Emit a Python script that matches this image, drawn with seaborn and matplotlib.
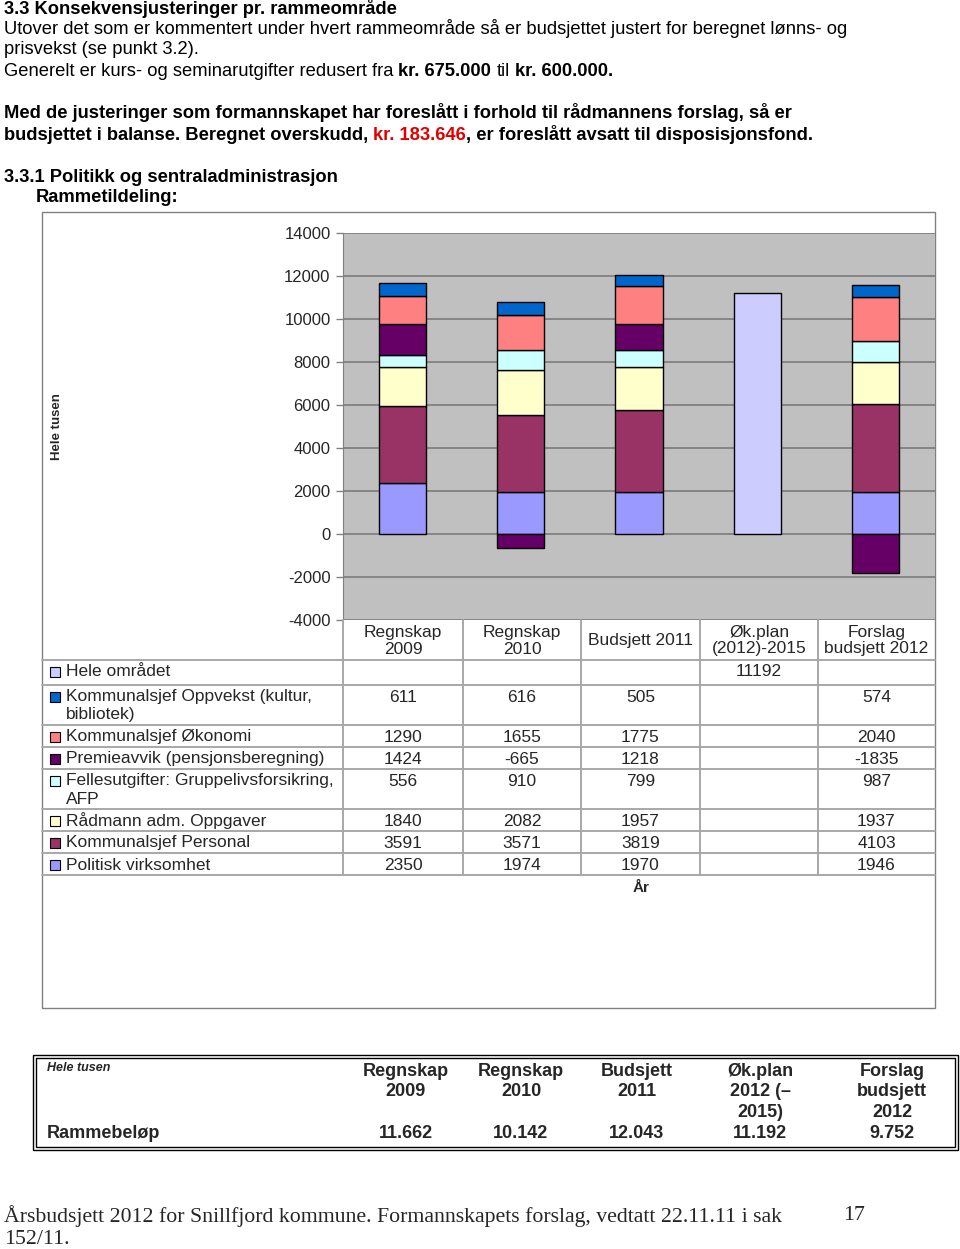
import numpy as np
import pandas as pd
import seaborn as sns
import matplotlib.pyplot as plt
from matplotlib.lines import Line2D
from matplotlib.patches import Rectangle

# ---- data ----
categories = ["Regnskap 2009", "Regnskap 2010", "Budsjett 2011",
              "Øk.plan (2012)-2015", "Forslag budsjett 2012"]
col_headers = ["Regnskap\n2009", "Regnskap\n2010", "Budsjett 2011",
               "Øk.plan\n(2012)-2015", "Forslag\nbudsjett 2012"]

hele_omradet = [np.nan, np.nan, np.nan, 11192, np.nan]
oppvekst = [611, 616, 505, np.nan, 574]
okonomi = [1290, 1655, 1775, np.nan, 2040]
premieavvik = [1424, -665, 1218, np.nan, -1835]
fellesutgifter = [556, 910, 799, np.nan, 987]
radmann = [1840, 2082, 1957, np.nan, 1937]
personal = [3591, 3571, 3819, np.nan, 4103]
politisk = [2350, 1974, 1970, np.nan, 1946]

series_names = ["Hele området",
                "Kommunalsjef Oppvekst (kultur,\nbibliotek)",
                "Kommunalsjef Økonomi",
                "Premieavvik (pensjonsberegning)",
                "Fellesutgifter: Gruppelivsforsikring,\nAFP",
                "Rådmann adm. Oppgaver",
                "Kommunalsjef Personal",
                "Politisk virksomhet"]
series_values = [hele_omradet, oppvekst, okonomi, premieavvik,
                 fellesutgifter, radmann, personal, politisk]
series_colors = ["#CCCCFF", "#0066CC", "#FF8080", "#660066",
                 "#CCFFFF", "#FFFFCC", "#993366", "#9999FF"]

summary_headers = ["Regnskap\n2009", "Regnskap\n2010", "Budsjett\n2011",
                   "Øk.plan\n2012 (–\n2015)", "Forslag\nbudsjett\n2012"]
rammebelop = ["11.662", "10.142", "12.043", "11.192", "9.752"]

sns.set_style("white")
plt.rcParams['font.family'] = ['Liberation Sans', 'DejaVu Sans']

W, H = 960, 1249
fig = plt.figure(figsize=(W / 100, H / 100), dpi=100)


def fx(x):
    return x / W


def fy(y):
    return 1 - y / H


def ftext(x, y, s, **kw):
    kw.setdefault('va', 'center')
    return fig.text(fx(x), fy(y), s, **kw)


def fline(x0, y0, x1, y1, **kw):
    fig.add_artist(Line2D([fx(x0), fx(x1)], [fy(y0), fy(y1)],
                          transform=fig.transFigure, **kw))


def frect(x0, y0, x1, y1, **kw):
    fig.add_artist(Rectangle((fx(x0), fy(y1)), fx(x1) - fx(x0), fy(y0) - fy(y1),
                             transform=fig.transFigure, **kw))


renderer = fig.canvas.get_renderer()
TXT = 13.2


def rich(x, y, parts, size=TXT):
    # parts: (text, weight, color); trailing spaces handled by hand
    for s, weight, color in parts:
        core = s.rstrip(' ')
        t = ftext(x, y, core, fontsize=size, fontweight=weight, color=color)
        x += t.get_window_extent(renderer=renderer).width
        x += (len(s) - len(core)) * 0.278 * size * 100 / 72


# ---- page text ----
B, N, K, R = 'bold', 'normal', 'black', '#E00000'
rich(4, 8, [("3.3 Konsekvensjusteringer pr. rammeområde", B, K)])
rich(4, 29, [("Utover det som er kommentert under hvert rammeområde så er budsjettet justert for beregnet lønns- og", N, K)])
rich(4, 50, [("prisvekst (se punkt 3.2).", N, K)])
rich(4, 71, [("Generelt er kurs- og seminarutgifter redusert fra ", N, K),
             ("kr. 675.000 ", B, K), ("til ", N, K), ("kr. 600.000.", B, K)])
rich(4, 113, [("Med de justeringer som formannskapet har foreslått i forhold til rådmannens forslag, så er", B, K)])
rich(4, 135, [("budsjettet i balanse. Beregnet overskudd, ", B, K), ("kr. 183.646", B, R),
              (", er foreslått avsatt til disposisjonsfond.", B, K)])
rich(4, 177, [("3.3.1 Politikk og sentraladministrasjon", B, K)])
rich(36, 198, [("Rammetildeling:", B, K)])

# ---- chart frame ----
frect(42, 212, 935, 1008, facecolor='white', edgecolor='#808080', lw=1, zorder=0)

ax = fig.add_axes([fx(343), fy(620), fx(935) - fx(343), fy(233) - fy(620)])
ax.set_facecolor('#C0C0C0')

pos_base = np.zeros(len(categories))
neg_base = np.zeros(len(categories))
for name, vals, color in reversed(list(zip(series_names, series_values, series_colors))):
    v = np.array(vals, dtype=float)
    mask = ~np.isnan(v)
    base = np.where(v >= 0, pos_base, neg_base)
    df = pd.DataFrame({"cat": np.array(categories)[mask], "val": v[mask]})
    sns.barplot(data=df, x="cat", y="val", order=categories, bottom=base[mask],
                color=color, saturation=1, width=0.4, edgecolor='black',
                linewidth=1, errorbar=None, ax=ax)
    vv = np.nan_to_num(v)
    pos_base = pos_base + np.where(vv > 0, vv, 0)
    neg_base = neg_base + np.where(vv < 0, vv, 0)

ax.set_xlim(-0.5, 4.5)
ax.set_ylim(-4000, 14000)
ax.set_yticks(range(-4000, 14001, 2000))
ax.set_yticklabels([str(t) for t in range(-4000, 14001, 2000)], fontsize=12)
ax.tick_params(axis='y', length=5, width=1, color='#808080', pad=4, left=True)
ax.tick_params(axis='x', length=0, labelbottom=False)
ax.set_xlabel("")
ax.set_ylabel("")
ax.yaxis.grid(True, color='#808080', linewidth=1.3)
ax.set_axisbelow(True)
for side in ['top', 'right', 'bottom']:
    ax.spines[side].set_visible(False)
ax.spines['left'].set_color('#808080')

ftext(57, 427, "Hele tusen", fontsize=9.5, fontweight='bold', rotation=90, ha='center')

# ---- data table under the chart ----
TB = 12.5
col_edges = [343, 463, 581, 700, 818, 935]
col_mid = [(a + b) / 2 for a, b in zip(col_edges[:-1], col_edges[1:])]
row_lines = [660, 685, 725, 747, 769, 809, 831, 853, 875]
grid_kw = dict(color='#A8A8A8', lw=1.4)

for x in col_edges[:-1]:
    fline(x, 620, x, 875, **grid_kw)
for y in row_lines:
    fline(42, y, 935, y, **grid_kw)

for xm, head in zip(col_mid, col_headers):
    lines = head.split("\n")
    if len(lines) == 1:
        ftext(xm, 640, lines[0], fontsize=TB, ha='center')
    else:
        for i, ln in enumerate(lines):
            ftext(xm, 632 + 17 * i, ln, fontsize=TB, ha='center')

for top, name, vals, color in zip(row_lines[:-1], series_names, series_values, series_colors):
    y0 = top + 12
    frect(50, y0 - 5, 60, y0 + 5, facecolor=color, edgecolor='black', lw=0.8)
    for i, ln in enumerate(name.split("\n")):
        ftext(66, y0 + 18 * i, ln, fontsize=TB)
    for xm, v in zip(col_mid, vals):
        if not np.isnan(v):
            ftext(xm, y0, str(int(v)), fontsize=TB, ha='center')

ftext(641, 888, "År", fontsize=11, fontweight='bold', ha='center')

# ---- summary table ----
frect(33, 1055, 958, 1150, facecolor='none', edgecolor='black', lw=1)
frect(36, 1058, 955, 1147, facecolor='none', edgecolor='black', lw=1)
ftext(47, 1068, "Hele tusen", fontsize=9, fontweight='bold', fontstyle='italic')
ftext(47, 1133, "Rammebeløp", fontsize=13, fontweight='bold')
summary_x = [406, 521, 637, 760, 892]
for xm, head, val in zip(summary_x, summary_headers, rammebelop):
    for i, ln in enumerate(head.split("\n")):
        ftext(xm, 1071 + 20.7 * i, ln, fontsize=13, fontweight='bold', ha='center')
    ftext(xm, 1133, val, fontsize=13, fontweight='bold', ha='center')

# ---- footer ----
serif = ['Liberation Serif', 'DejaVu Serif']
ftext(4, 1216, "Årsbudsjett 2012 for Snillfjord kommune. Formannskapets forslag, vedtatt 22.11.11 i sak",
      fontsize=15.7, family=serif)
ftext(843, 1216, "17", fontsize=15.7, family=serif)
ftext(4, 1240, "152/11.", fontsize=15.7, family=serif)

fig.savefig("out.png", dpi=100)
